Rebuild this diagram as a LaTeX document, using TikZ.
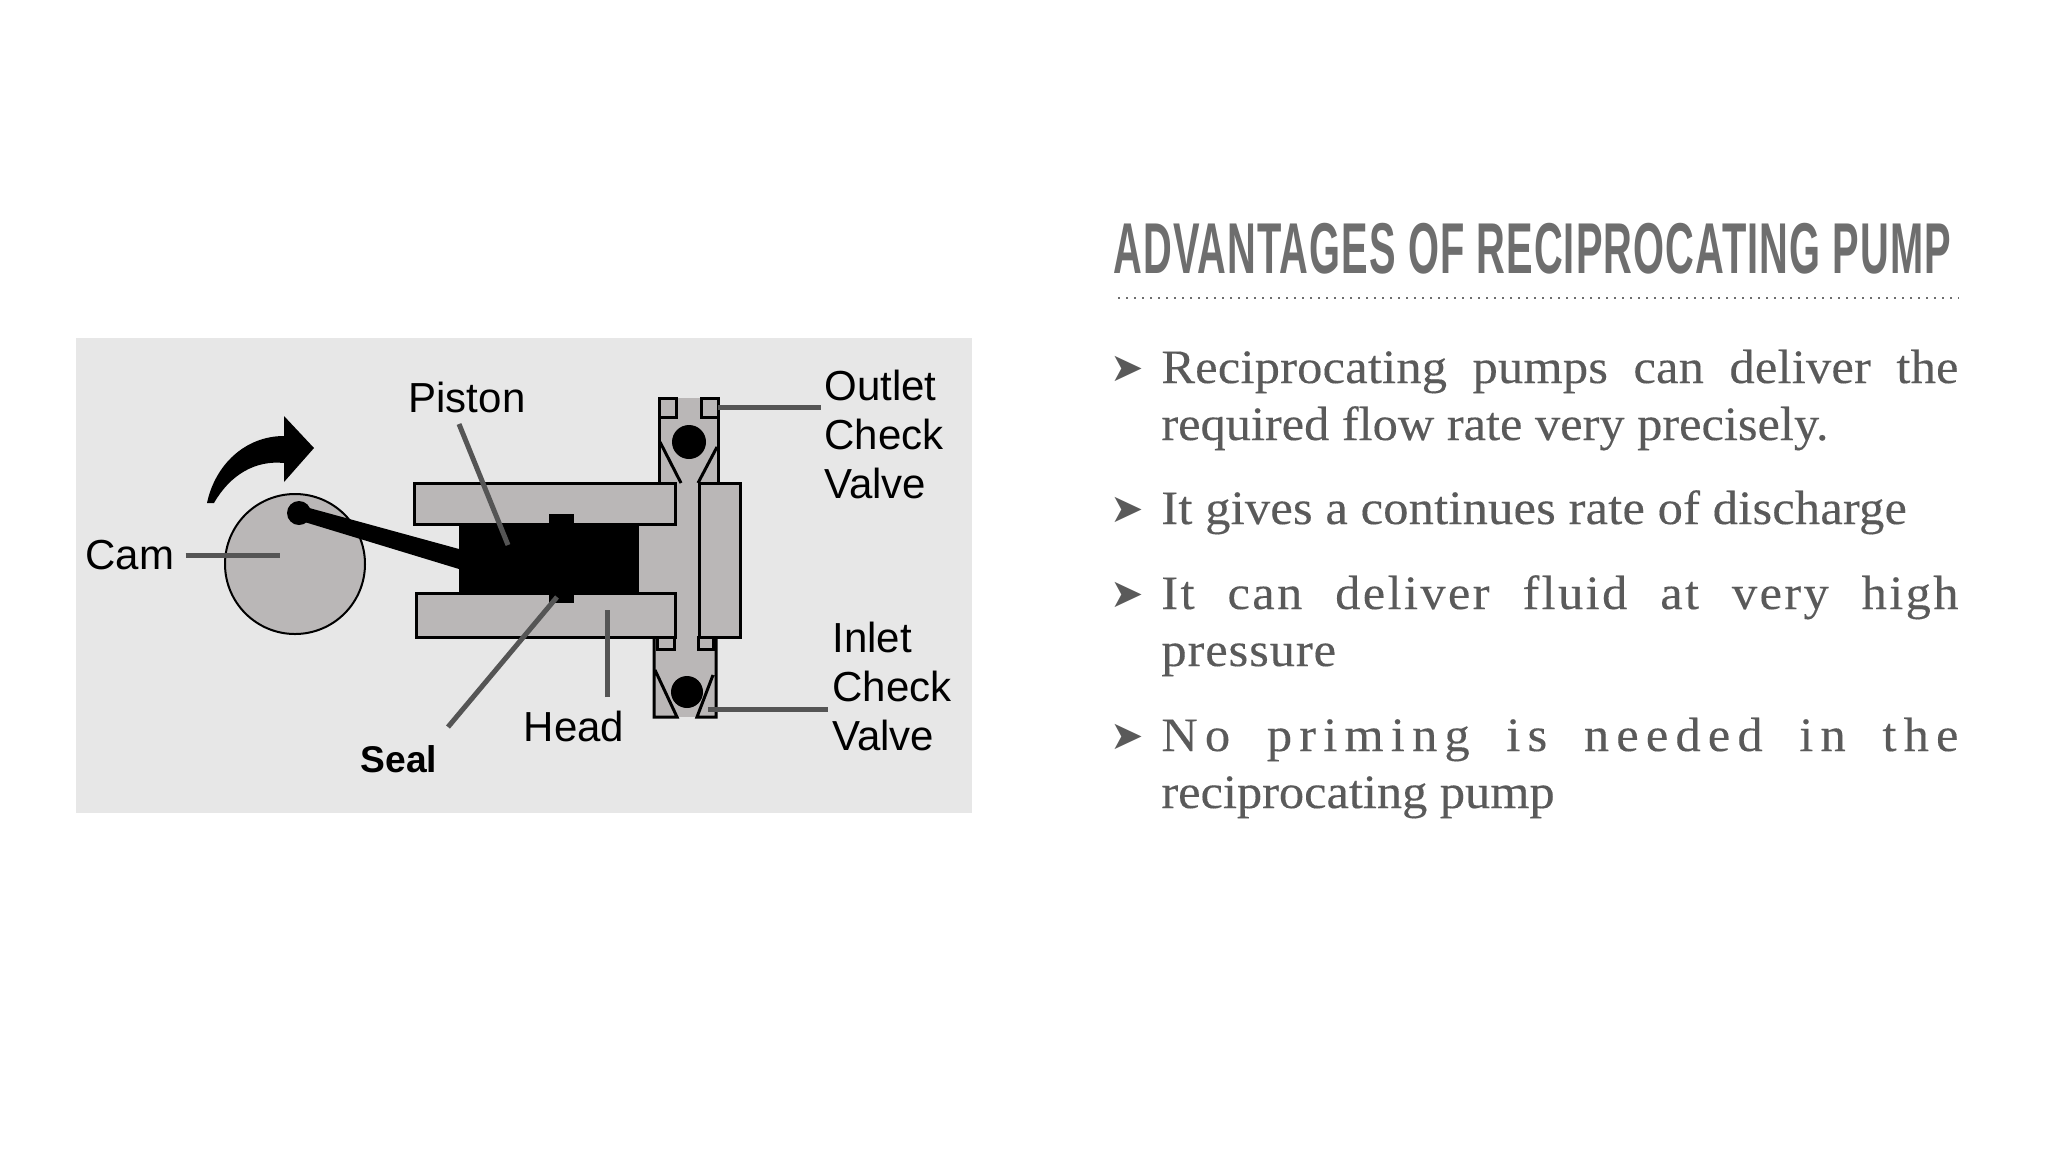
\documentclass[tikz,border=0pt]{standalone}
\usepackage{fontspec}
\setmainfont[FakeStretch=1.05,FakeBold=0.25]{Liberation Serif}
\setsansfont{Liberation Sans}
\newfontfamily\titlefont[FakeStretch=0.553,LetterSpace=1.5]{Liberation Sans}
\newfontfamily\bulletfont{DejaVu Sans}
\usetikzlibrary{positioning}
\definecolor{panelgrey}{HTML}{E7E7E7}
\definecolor{partgrey}{HTML}{BAB7B7}
\definecolor{leadergrey}{HTML}{555555}
\definecolor{bodygrey}{HTML}{5A5A5A}
\definecolor{titlegrey}{HTML}{6E6E6E}
\newcommand{\fullline}[2][0]{\makebox[398.5pt][s]{\addfontfeature{LetterSpace=#1}#2}}
\tikzset{
  part/.style={draw=black,fill=partgrey,line width=1.5pt},
  edgeline/.style={draw=black,line width=1.5pt},
  leader/.style={draw=leadergrey,line width=2.5pt},
  label/.style={inner sep=0pt,text=black,font=\sffamily\fontsize{21}{24.5}\selectfont,align=left},
  bodyline/.style={inner sep=0pt,anchor=base west,text=bodygrey,font=\fontsize{24}{28}\selectfont},
  bulletmark/.style={inner sep=0pt,anchor=base west,text=bodygrey,font=\bulletfont\fontsize{20}{20}\selectfont}
}
\begin{document}
\begin{tikzpicture}[x=0.5pt,y=-0.5pt]
\path[fill=white,use as bounding box] (0,0) rectangle (2048,1152);
\fill[panelgrey] (76,338) rectangle (972,813);
\draw[part,line width=1pt] (295,564) circle (70);
\fill[partgrey] (659,398) rectangle (718,483);
\fill[partgrey] (654,637) rectangle (716,717);
\fill[partgrey] (639,526) rectangle (699,592);
\fill[partgrey] (676,483) rectangle (699,637);
\draw[part] (414,483) rectangle (675,524);
\draw[part] (416,593) rectangle (675,637);
\draw[part] (699,483) rectangle (740,637);
\draw[part] (659,398) rectangle (676,417);
\draw[part] (701,398) rectangle (718,417);
\draw[edgeline] (659,417) -- (659,483);
\draw[edgeline] (718,417) -- (718,483);
\draw[edgeline] (660,442) -- (681,483);
\draw[edgeline] (717,447) -- (698,483);
\draw[part] (657,637) rectangle (674,649);
\draw[part] (698,637) rectangle (713,649);
\draw[edgeline] (654,637) -- (654,717) -- (677,717) -- (655,670);
\draw[edgeline] (716,637) -- (716,717) -- (697,717) -- (713,675);
\fill[black] (459,524) rectangle (639,593);
\fill[black] (549,514) rectangle (574,526);
\fill[black] (549,591) rectangle (574,603);
\fill[black] (302,506) -- (459,549) -- (459,569) -- (298,520) -- cycle;
\fill[black] (299,513) circle (12);
\fill[black] (689,442) circle (17);
\fill[black] (687,692) circle (16);
\fill[black] (207,503) .. controls (215,465) and (245,436) .. (284,436)
  -- (284,416) -- (314,448) -- (284,482) -- (284,463)
  .. controls (255,460) and (230,475) .. (214,503) -- cycle;
\node[label,anchor=center] (cam) at (130,555) {Cam};
\node[label,anchor=center] (piston) at (467,397) {Piston};
\node[label,anchor=center,font=\sffamily\bfseries\fontsize{18.6}{22}\selectfont] (seal) at (399,759) {Seal};
\node[label,anchor=center] (head) at (574,726) {Head};
\node[label,anchor=west] (outlet) at (824,434) {Outlet\\Check\\Valve};
\node[label,anchor=west] (inlet) at (832,686) {Inlet\\Check\\Valve};
\coordinate (camtip) at (280,555);
\coordinate (pistontip) at (508,545);
\coordinate (pistonend) at (459,424);
\coordinate (sealtip) at (557,597);
\coordinate (sealend) at (448,727);
\coordinate (headtip) at (607,610);
\coordinate (headend) at (607,697);
\coordinate (outlettip) at (718,407);
\coordinate (outletend) at (821,407);
\coordinate (inlettip) at (708,709);
\coordinate (inletend) at (828,709);
\draw[leader] ([xshift=5.5pt]cam.east) -- (camtip);
\draw[leader] (pistonend) -- (pistontip);
\draw[leader] (sealend) -- (sealtip);
\draw[leader] (headend) -- (headtip);
\draw[leader] (outlettip) -- (outletend);
\draw[leader] (inlettip) -- (inletend);
\node[inner sep=0pt,anchor=base west,text=titlegrey,font=\titlefont\bfseries\fontsize{36}{40}\selectfont] (title) at (1113,273) {ADVANTAGES OF RECIPROCATING PUMP};
\coordinate (ruleleft) at (1118,298);
\coordinate (ruleright) at (1959,298);
\draw[titlegrey,line width=1pt,dash pattern=on 1pt off 3pt] (ruleleft) -- (ruleright);
\node[bulletmark] (mark1) at (1110,381) {➤};
\node[bulletmark] (mark2) at (1110,522) {➤};
\node[bulletmark] (mark3) at (1110,607) {➤};
\node[bulletmark] (mark4) at (1110,749) {➤};
\node[bodyline] (line1) at (1161,383) {\fullline[0.5]{Reciprocating pumps can deliver the}};
\node[bodyline] (line2) at (1161,440) {required flow rate very precisely.};
\node[bodyline] (line3) at (1161,524) {\addfontfeature{LetterSpace=0.5}It gives a continues rate of discharge};
\node[bodyline] (line4) at (1161,609) {\fullline[5]{It can deliver fluid at very high}};
\node[bodyline] (line5) at (1161,666) {\addfontfeature{LetterSpace=2}pressure};
\node[bodyline] (line6) at (1161,751) {\fullline[15]{No priming is needed in the}};
\node[bodyline] (line7) at (1161,808) {reciprocating pump};
\end{tikzpicture}
\end{document}
